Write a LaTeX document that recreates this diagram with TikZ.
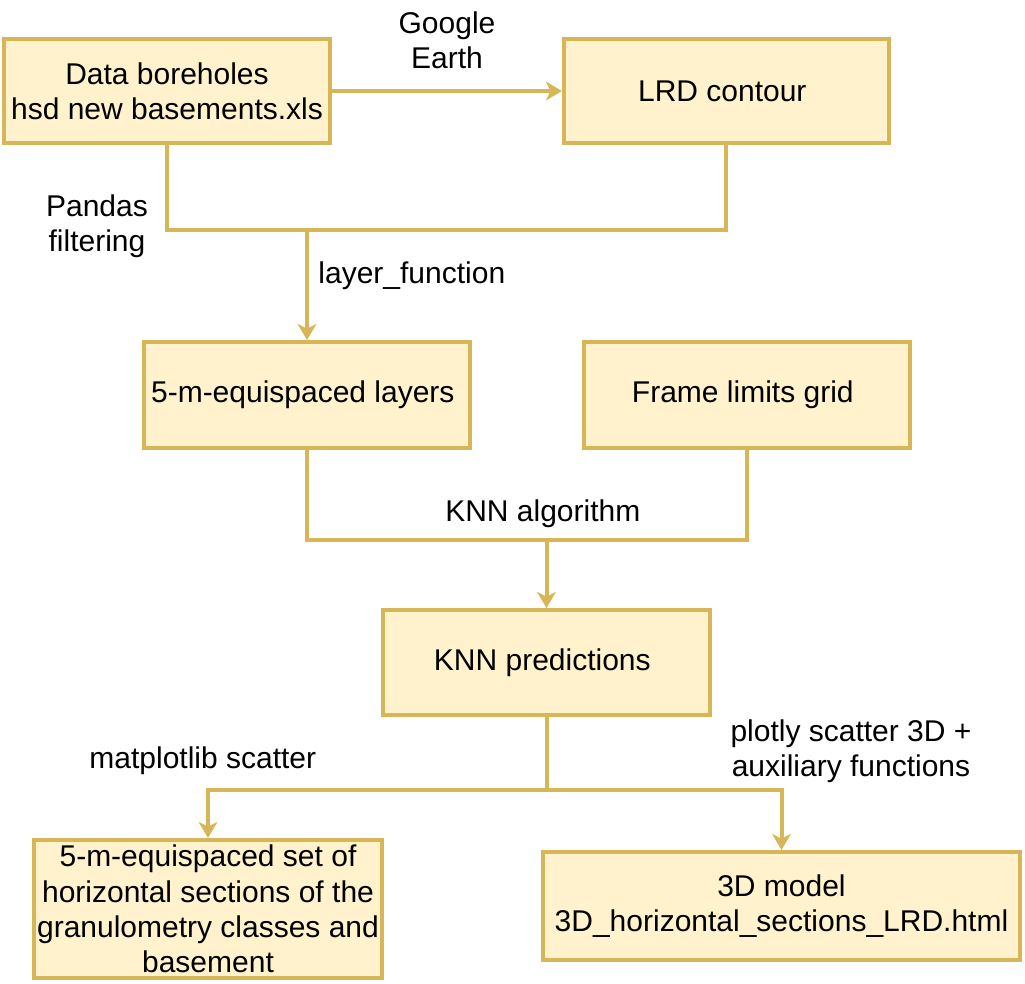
\documentclass[tikz,border=0pt]{standalone}
\usepackage{fontspec}
\setmainfont{Liberation Sans}
\usepackage{tikz}
\usetikzlibrary{positioning}
\usetikzlibrary{arrows.meta}

\definecolor{stagefill}{HTML}{FFF2CC}
\definecolor{stageline}{HTML}{D6B656}

\begin{document}
\begin{tikzpicture}[x=0.75pt, y=-0.75pt, node distance=3ex]

\tikzstyle{stage}=[rectangle, draw=stageline, fill=stagefill, line width=3pt,
  align=center, inner sep=1ex, font=\fontsize{22.5}{26.5}\selectfont]
\tikzstyle{lbl}=[align=center, inner sep=0pt, font=\fontsize{22.5}{26.5}\selectfont]

\tikzstyle{arrflow}=[-{Stealth[length=12pt, width=14pt, inset=3.5pt]},
  line width=3pt, draw=stageline]
\tikzstyle{arrjoin}=[line width=3pt, draw=stageline]

\useasboundingbox (0,0) rectangle (1025,983);

\node[stage, minimum width=243.75pt, minimum height=78pt] at (167,91) (boreholes) {
  Data boreholes\\hsd new basements.xls };
\node[stage, minimum width=243.75pt, minimum height=78pt,
  right=172.5pt of boreholes] (contour) { LRD contour };
\draw[arrflow] (boreholes) -- (contour);
\node[lbl] at (447,40) (earthlbl) { Google\\Earth };

\coordinate (joinlayers) at (307,230);
\draw[arrjoin] (boreholes.south) |- (joinlayers) -| (contour.south);
\node[lbl] at (97,226) (pandaslbl) { Pandas\\filtering };

\node[stage, minimum width=244.5pt, minimum height=79.5pt] at (307,395) (layers) {
  5-m-equispaced layers };
\draw[arrflow] (joinlayers) -- (layers.north);
\node[lbl] at (416,276) (layerlbl) { layer\_function };

\node[stage, minimum width=244.5pt, minimum height=79.5pt,
  right=82.5pt of layers] (grid) { Frame limits grid };

\coordinate (joinknn) at (546.5,540);
\draw[arrjoin] (layers.south) |- (joinknn) -| (grid.south);
\node[lbl] at (547,514) (knnlbl) { KNN algorithm };

\node[stage, minimum width=245.25pt, minimum height=78.75pt] at (546.5,662.5) (knn) {
  KNN predictions };
\draw[arrflow] (joinknn) -- (knn.north);

\coordinate (joinout) at (546.5,790);
\draw[arrjoin] (knn.south) -- (joinout);

\node[stage, minimum width=261pt, minimum height=103.5pt, inner sep=0pt]
  at (208,909) (sections) {
  5-m-equispaced set of\\horizontal sections of the\\granulometry classes and\\basement };
\draw[arrflow] (joinout) -| (sections.north);
\node[lbl] at (207,761) (mpllbl) { matplotlib scatter };

\node[stage, minimum width=357.75pt, minimum height=81pt] at (781.5,906) (model) {
  3D model\\3D\_horizontal\_sections\_LRD.html };
\draw[arrflow] (joinout) -| (model.north);
\node[lbl] at (851,751) (plotlylbl) { plotly scatter 3D +\\auxiliary functions };

\end{tikzpicture}
\end{document}
